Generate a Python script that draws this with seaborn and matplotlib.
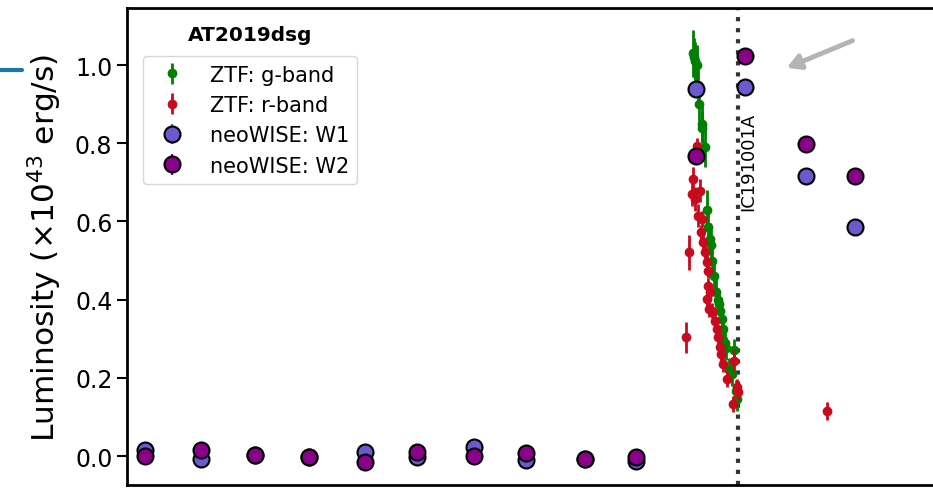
import numpy as np
import matplotlib
matplotlib.use("Agg")
import matplotlib.pyplot as plt
from matplotlib.lines import Line2D
import seaborn as sns

# ZTF light curve (MJD, luminosity in 1e43 erg/s)
g_mjd = np.array([58607, 58611, 58614, 58620, 58624, 58628, 58637, 58639, 58648, 58654,
                  58659, 58665, 58667, 58670, 58676, 58685, 58690, 58696, 58698, 58704,
                  58709, 58715, 58718, 58729, 58737, 58746, 58751, 58756])
g_lum = np.array([1.03, 1.02, 1.01, 1.00, 0.95, 0.90, 0.85, 0.84, 0.79, 0.63,
                  0.585, 0.555, 0.54, 0.50, 0.46, 0.42, 0.40, 0.39, 0.37, 0.35,
                  0.325, 0.29, 0.275, 0.22, 0.21, 0.27, 0.165, 0.145])
g_err = np.array([0.06, 0.05, 0.05, 0.05, 0.05, 0.05, 0.05, 0.04, 0.05, 0.05,
                  0.04, 0.04, 0.04, 0.04, 0.04, 0.04, 0.03, 0.03, 0.03, 0.03,
                  0.03, 0.03, 0.03, 0.03, 0.03, 0.03, 0.03, 0.03])

r_mjd = np.array([58584, 58594, 58603, 58609, 58614, 58620, 58625, 58631, 58634, 58637,
                  58642, 58648, 58653, 58657, 58659, 58654, 58664, 58660, 58670, 58681,
                  58687, 58692, 58698, 58700, 58707, 58722, 58746, 58742, 58756, 58759,
                  59056])
r_lum = np.array([0.304, 0.521, 0.670, 0.708, 0.657, 0.794, 0.615, 0.679, 0.572, 0.606,
                  0.547, 0.521, 0.495, 0.474, 0.436, 0.402, 0.419, 0.376, 0.372, 0.346,
                  0.325, 0.304, 0.278, 0.261, 0.235, 0.197, 0.244, 0.133, 0.176, 0.163,
                  0.114])
r_err = np.array([0.04, 0.045, 0.03, 0.03, 0.03, 0.02, 0.03, 0.03, 0.02, 0.02,
                  0.02, 0.02, 0.02, 0.02, 0.02, 0.02, 0.02, 0.02, 0.02, 0.02,
                  0.02, 0.02, 0.02, 0.02, 0.02, 0.02, 0.03, 0.02, 0.02, 0.02,
                  0.023])

# neoWISE epochs
w_mjd = np.array([56777, 56964, 57145, 57325, 57512, 57686, 57876, 58050, 58247, 58417,
                  58617, 58781, 58984, 59149])
w1_lum = np.array([0.015, -0.007, 0.002, -0.003, 0.009, -0.003, 0.022, -0.011, -0.007, -0.014,
                   0.939, 0.943, 0.717, 0.585])
w2_lum = np.array([0.0, 0.015, 0.002, -0.003, -0.016, 0.009, 0.0, 0.008, -0.007, -0.003,
                   0.766, 1.024, 0.798, 0.717])
w_err = np.full(len(w_mjd), 0.01)

nu_mjd = 58757  # IC191001A

sns.set_style("ticks")
plt.rcParams['font.family'] = ['DejaVu Sans']
plt.rcParams.update({'text.color': 'black', 'axes.labelcolor': 'black',
                     'xtick.color': 'black', 'ytick.color': 'black'})

fig = plt.figure(figsize=(9.33, 4.89), dpi=100)
ax = fig.add_axes([0.1361, 0.0061, 0.8767, 0.9755])

ax.errorbar(g_mjd, g_lum, yerr=g_err, fmt='o', color='green', ms=6, elinewidth=2,
            label='ZTF: g-band', zorder=2)
ax.errorbar(r_mjd, r_lum, yerr=r_err, fmt='o', color='#c80a1e', ms=6, elinewidth=2,
            label='ZTF: r-band', zorder=3)
ax.errorbar(w_mjd, w1_lum, yerr=w_err, fmt='o', color='slateblue', mfc='slateblue',
            mec='black', mew=1.5, ms=11.5, elinewidth=1.5, label='neoWISE: W1', zorder=4)
ax.errorbar(w_mjd, w2_lum, yerr=w_err, fmt='o', color='darkmagenta', mfc='darkmagenta',
            mec='black', mew=1.5, ms=11.5, elinewidth=1.5, label='neoWISE: W2', zorder=5)

ax.axvline(nu_mjd, color='#333333', ls=':', lw=3, zorder=1)
ax.text(nu_mjd + 6, 0.755, 'IC191001A', rotation=90, ha='left', va='center', fontsize=13)

ax.annotate('', xy=(58912, 0.99), xytext=(59149, 1.065),
            arrowprops=dict(arrowstyle='-|>,head_length=0.8,head_width=0.45',
                            color='#b4b4b4', lw=3.5))

ax.set_xlim(56717, 59449)
ax.set_ylim(-0.0742, 1.1458)
ax.set_xticks([])
ax.set_yticks([0.0, 0.2, 0.4, 0.6, 0.8, 1.0])
ax.tick_params(axis='y', labelsize=17, length=7, width=1.5)
ax.set_ylabel('Luminosity ($\\times10^{43}$ erg/s)', fontsize=22.5, labelpad=8)
for s in ax.spines.values():
    s.set_linewidth(2)
    s.set_color('black')

ax.legend(loc='upper left', bbox_to_anchor=(0.0196, 0.899), borderaxespad=0,
          fontsize=15, frameon=True)
ax.text(0.150, 0.945, 'AT2019dsg', transform=ax.transAxes, ha='center', va='center',
        fontsize=14.5, fontweight='bold')

fig.add_artist(Line2D([0, 22 / 933], [1 - 70.7 / 489] * 2, transform=fig.transFigure,
                      color='#1a7aa6', lw=3))

fig.savefig('out.png', dpi=100)
